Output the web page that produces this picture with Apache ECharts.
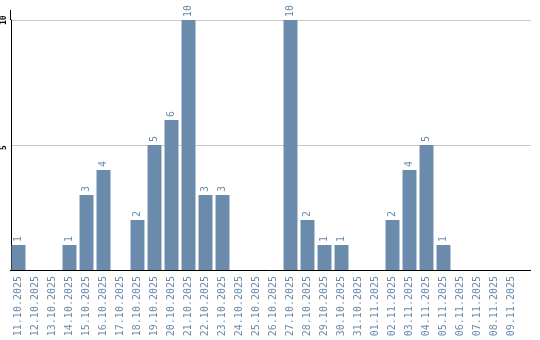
<!DOCTYPE html>
<html><head><meta charset="utf-8">
<script src="https://cdn.jsdelivr.net/npm/echarts@6/dist/echarts.min.js"></script>
<style>html,body{margin:0;padding:0;background:#fff}#c{width:540px;height:340px}</style>
</head><body><div id="c"></div>
<script>
var categories = ['11.10.2025','12.10.2025','13.10.2025','14.10.2025','15.10.2025','16.10.2025','17.10.2025','18.10.2025','19.10.2025','20.10.2025','21.10.2025','22.10.2025','23.10.2025','24.10.2025','25.10.2025','26.10.2025','27.10.2025','28.10.2025','29.10.2025','30.10.2025','31.10.2025','01.11.2025','02.11.2025','03.11.2025','04.11.2025','05.11.2025','06.11.2025','07.11.2025','08.11.2025','09.11.2025'];
var values = [1,0,0,1,3,4,0,2,5,6,10,3,3,0,0,0,10,2,1,1,0,0,2,4,5,1,0,0,0,0];
var yTicks = [0,5,10];

var chart = echarts.init(document.getElementById('c'));
var barColor = '#6a8bab';
chart.setOption({
  animation: false,
  grid: [
    {left: 10, right: 9, top: 20, bottom: 70, containLabel: false},
    {left: 10, right: 20, top: 20, bottom: 70, containLabel: false}
  ],
  xAxis: [
    {
      gridIndex: 0, type: 'value', min: 0, max: 1,
      axisLine: {show: false}, axisTick: {show: false}, axisLabel: {show: false}, splitLine: {show: false}
    },
    {
      gridIndex: 1, type: 'category', data: categories,
      axisLine: {show: false},
      axisTick: {show: false},
      axisLabel: {rotate: 90, interval: 0, color: '#6a8bab', fontFamily: 'DejaVu Sans Mono', fontSize: 10, margin: 6}
    }
  ],
  yAxis: [
    {
      gridIndex: 0, type: 'value', min: 0, max: 10, interval: 5,
      axisLine: {show: true, lineStyle: {color: '#000', width: 1}},
      axisTick: {show: false},
      splitLine: {lineStyle: {color: '#c8c8c8', width: 1}},
      axisLabel: {
        rotate: 90, align: 'left', verticalAlign: 'bottom', padding: [0, 0, 0, -5],
        color: '#000', fontFamily: 'DejaVu Sans Mono', fontSize: 8, fontWeight: 'bold', margin: 3,
        formatter: function (v) { return yTicks.indexOf(v) > 0 ? String(v) : ''; }
      }
    },
    {
      gridIndex: 1, type: 'value', min: 0, max: 10, interval: 5,
      axisLine: {show: false}, axisTick: {show: false}, axisLabel: {show: false}, splitLine: {show: false}
    }
  ],
  graphic: [
    {type: 'line', shape: {x1: 10.5, y1: 10, x2: 10.5, y2: 20}, style: {stroke: '#000', lineWidth: 1}},
    {type: 'line', z: 100, shape: {x1: 10, y1: 270.5, x2: 531, y2: 270.5}, style: {stroke: '#000', lineWidth: 1}}
  ],
  series: [{
    type: 'bar', data: values, barCategoryGap: '18%', xAxisIndex: 1, yAxisIndex: 1,
    itemStyle: {color: barColor},
    label: {
      show: true, position: 'top', rotate: 90, align: 'left', verticalAlign: 'middle', distance: 3,
      color: '#6a8bab', fontFamily: 'DejaVu Sans Mono', fontSize: 10,
      formatter: function (p) { return p.value > 0 ? String(p.value) : ''; }
    }
  }]
});
</script></body></html>
